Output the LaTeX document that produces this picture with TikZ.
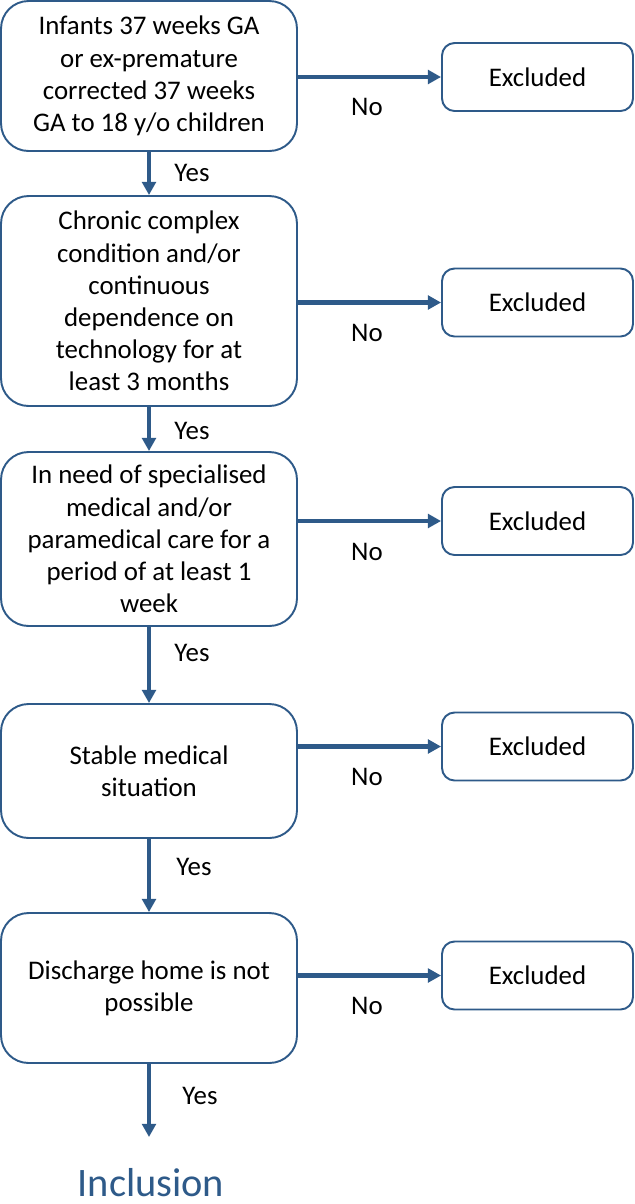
\documentclass[tikz,border=0pt]{standalone}
\usepackage{fontspec}
\setmainfont{Carlito}
\usetikzlibrary{positioning,arrows.meta}
\definecolor{flowblue}{RGB}{46,90,137}

\begin{document}
\begin{tikzpicture}[x=0.02cm,y=-0.02cm,font=\fontsize{15.3}{18.3}\selectfont,
  crit/.style={draw=flowblue,line width=1.1pt,rounded corners=0.55cm,align=center,minimum width=5.92cm,inner sep=2pt},
  excl/.style={draw=flowblue,line width=1.1pt,rounded corners=0.25cm,minimum width=3.82cm,minimum height=1.36cm},
  flow/.style={draw=flowblue,line width=2.3pt,-{Triangle[length=7.5pt,width=7.8pt]}},
  lbl/.style={inner sep=0pt}]
\useasboundingbox (0,0) rectangle (635,1204);
% Criteria column.
\node[crit,minimum height=3.0cm] (b1) at (149,76) {Infants 37 weeks GA\\or ex-premature\\corrected 37 weeks\\GA to 18 y/o children};
\node[crit,minimum height=4.2cm] (b2) at (149,301) {Chronic complex\\condition and/or\\continuous\\dependence on\\technology for at\\least 3 months};
\node[crit,minimum height=3.48cm] (b3) at (149,539) {In need of specialised\\medical and/or\\paramedical care for a\\period of at least 1\\week};
\node[crit,minimum height=2.68cm] (b4) at (149,771) {Stable medical\\situation};
\node[crit,minimum height=3.0cm] (b5) at (149,988) {Discharge home is not\\possible};
% Exclusion column.
\node[excl] (e1) at (537.5,77) {Excluded};
\node[excl] (e2) at (537.5,302.5) {Excluded};
\node[excl] (e3) at (537.5,521) {Excluded};
\node[excl] (e4) at (537.5,746.5) {Excluded};
\node[excl] (e5) at (537.5,975.5) {Excluded};
\node[text=flowblue,font=\fontsize{23}{27}\selectfont,anchor=base] (incl) at (151,1196) {Inclusion};
\coordinate (tip) at (149,1137);
% Yes branches.
\draw[flow] (b1) -- (b2);
\draw[flow] (b2) -- (b3);
\draw[flow] (b3) -- (b4);
\draw[flow] (b4) -- (b5);
\draw[flow] (b5) -- (tip);
\node[lbl] (y1) at (192,173) {Yes};
\node[lbl] (y2) at (192,431) {Yes};
\node[lbl] (y3) at (192,653) {Yes};
\node[lbl] (y4) at (194,867) {Yes};
\node[lbl] (y5) at (200,1096) {Yes};
% No branches.
\draw[flow] (b1.east |- e1.west) -- (e1.west);
\draw[flow] (b2.east |- e2.west) -- (e2.west);
\draw[flow] (b3.east |- e3.west) -- (e3.west);
\draw[flow] (b4.east |- e4.west) -- (e4.west);
\draw[flow] (b5.east |- e5.west) -- (e5.west);
\node[lbl] (n1) at (367,107) {No};
\node[lbl] (n2) at (367,333) {No};
\node[lbl] (n3) at (367,552) {No};
\node[lbl] (n4) at (367,777) {No};
\node[lbl] (n5) at (367,1006) {No};
\end{tikzpicture}
\end{document}
